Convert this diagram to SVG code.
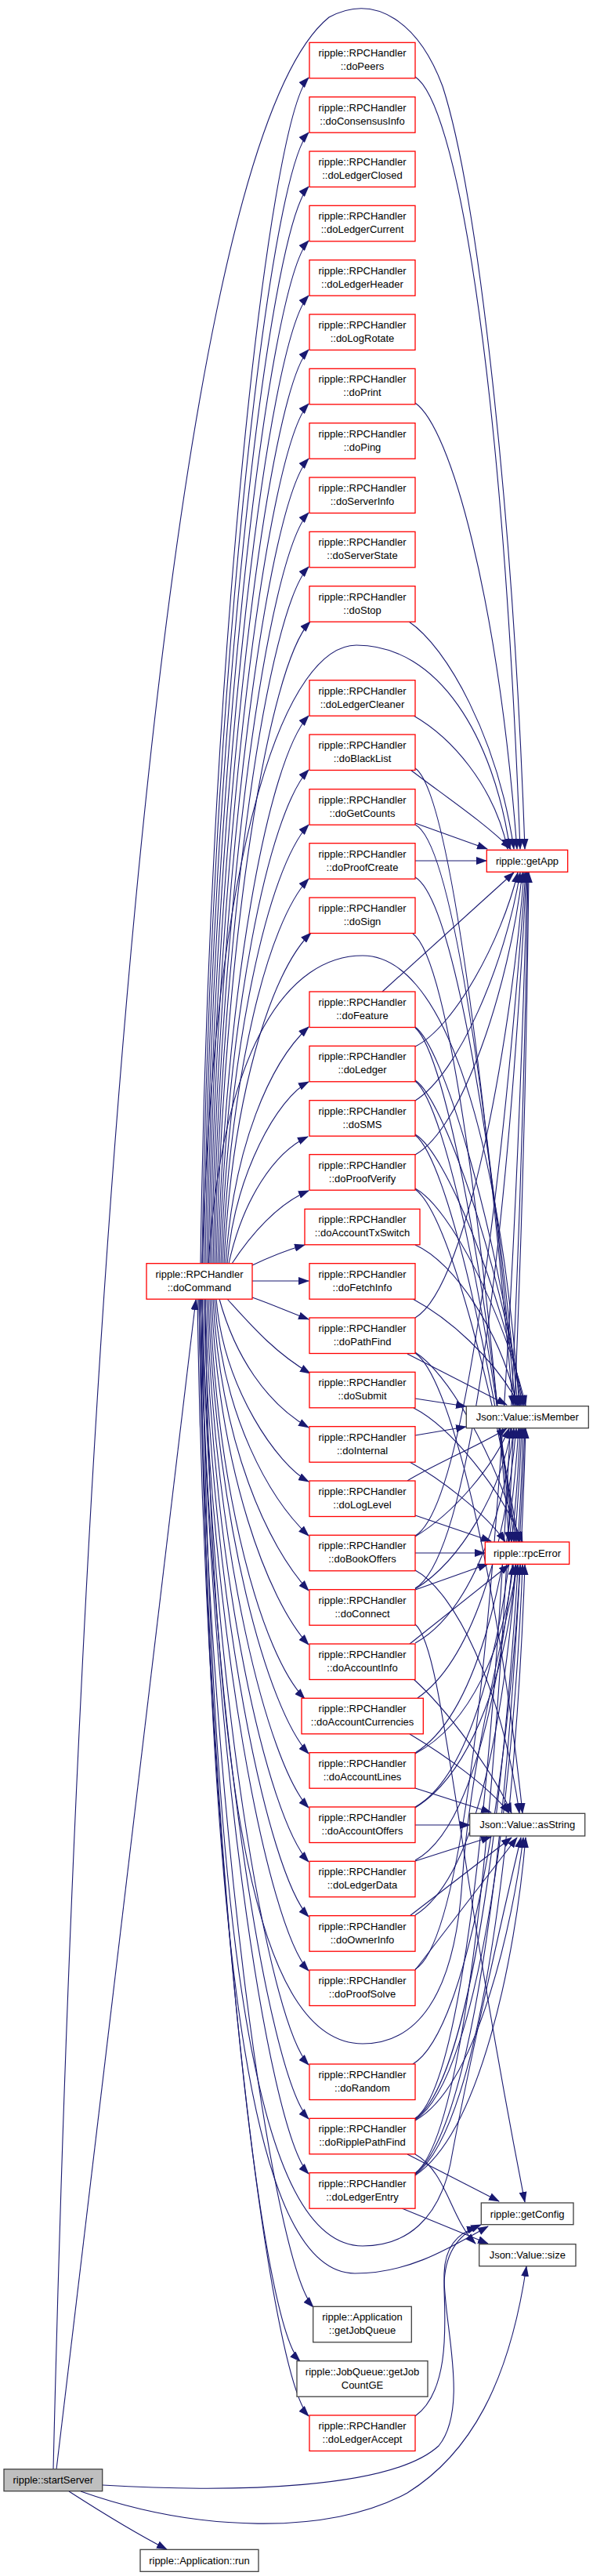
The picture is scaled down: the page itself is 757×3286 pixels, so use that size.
<svg xmlns="http://www.w3.org/2000/svg" width="757" height="3286" viewBox="0 0 757 3286">
<defs>
<style>
.e{fill:none;stroke:#191970;stroke-width:1.1;marker-end:url(#ah)}
.r{fill:#fff;stroke:#ff0000;stroke-width:1.3}
.k{fill:#fff;stroke:#404040;stroke-width:1.3}
.g{fill:#bfbfbf;stroke:#404040;stroke-width:1.3}
text{font-family:"Liberation Sans",Arial,sans-serif;font-size:13px;text-anchor:middle;fill:#000}
</style>
<marker id="ah" markerUnits="userSpaceOnUse" markerWidth="14" markerHeight="10" refX="13" refY="5" orient="auto"><path d="M0,0 L14,5 L0,10 z" fill="#191970"/></marker>
</defs>
<rect width="757" height="3286" fill="#fff"/>
<g id="edges">
<!-- startServer -->
<path class="e" d="M72,3150 L250,1658"/>
<path class="e" d="M68,3150 C100,1800 200,200 420,22 C480,-10 535,30 565,110 C610,250 655,650 670,1083"/>
<path class="e" d="M131,3170 C300,3180 500,3175 560,3120 C600,3070 565,2960 567,2900 C568,2865 585,2848 609,2841"/>
<path class="e" d="M103,3178 C250,3230 420,3235 520,3180 C600,3130 650,3040 672,2891"/>
<path class="e" d="M88,3178 C130,3205 180,3235 213,3252"/>
<!-- doCommand upward -->
<path class="e" d="M256,1612 C266,856 342,155 394,99"/>
<path class="e" d="M258,1612 C268,891 342,225 394,169"/>
<path class="e" d="M260,1612 C270,926 342,294 394,238"/>
<path class="e" d="M262,1612 C272,960 342,363 394,307"/>
<path class="e" d="M264,1612 C274,995 342,433 394,377"/>
<path class="e" d="M266,1612 C276,1030 342,502 394,446"/>
<path class="e" d="M268,1612 C278,1064 342,571 394,515"/>
<path class="e" d="M270,1612 C280,1099 342,641 394,585"/>
<path class="e" d="M272,1612 C282,1134 342,710 394,654"/>
<path class="e" d="M274,1612 C284,1168 342,779 394,723"/>
<path class="e" d="M276,1612 C286,1203 342,849 396,793"/>
<path class="e" d="M258,1612 C275,1050 370,823 455,823 C560,823 630,940 651,1083"/>
<path class="e" d="M278,1612 C288,1263 342,969 394,913"/>
<path class="e" d="M280,1612 C290,1298 342,1038 394,982"/>
<path class="e" d="M282,1612 C292,1333 342,1108 394,1052"/>
<path class="e" d="M284,1612 C294,1367 342,1177 394,1121"/>
<path class="e" d="M286,1612 C296,1402 345,1240 397,1190"/>
<path class="e" d="M266,1612 C285,1330 370,1219 463,1219 C560,1219 635,1420 663,1793"/>
<path class="e" d="M288,1612 C298,1462 345,1355 394,1310"/>
<path class="e" d="M290,1612 C300,1496 355,1400 394,1380"/>
<path class="e" d="M292,1612 C310,1530 350,1470 393,1450"/>
<path class="e" d="M296,1612 C320,1575 355,1535 394,1519"/>
<path class="e" d="M322,1614 C345,1603 365,1595 389,1588"/>
<path class="e" d="M322,1634 L394,1634"/>
<!-- doCommand downward -->
<path class="e" d="M322,1655 C345,1663 365,1672 394,1683"/>
<path class="e" d="M290,1657 C320,1690 350,1725 396,1752"/>
<path class="e" d="M280,1657 C300,1730 340,1790 394,1821"/>
<path class="e" d="M276,1657 C286,1773 355,1869 394,1890"/>
<path class="e" d="M274,1657 C284,1808 345,1913 394,1959"/>
<path class="e" d="M272,1657 C282,1843 342,1973 394,2029"/>
<path class="e" d="M270,1657 C280,1877 342,2042 394,2098"/>
<path class="e" d="M268,1657 C278,1912 335,2111 389,2167"/>
<path class="e" d="M266,1657 C276,1946 342,2181 394,2237"/>
<path class="e" d="M264,1657 C274,1981 342,2250 394,2306"/>
<path class="e" d="M262,1657 C272,2016 342,2319 394,2375"/>
<path class="e" d="M260,1657 C270,2050 342,2389 394,2445"/>
<path class="e" d="M258,1657 C268,2085 342,2458 394,2514"/>
<path class="e" d="M262,1657 C270,2300 330,2607 463,2607 C530,2607 580,2550 590,2400 C600,2250 640,2100 661,1996"/>
<path class="e" d="M258,1657 C268,2145 342,2578 394,2634"/>
<path class="e" d="M256,1657 C266,2180 342,2647 394,2703"/>
<path class="e" d="M256,1657 C266,2214 342,2717 394,2773"/>
<path class="e" d="M258,1657 C268,2500 330,2865 463,2865 C520,2865 560,2830 575,2760 C595,2650 640,2450 665,2344"/>
<path class="e" d="M256,1657 C266,2550 330,2900 453,2900 C520,2900 570,2870 623,2840"/>
<path class="e" d="M254,1657 C264,2300 348,2887 400,2943"/>
<path class="e" d="M254,1657 C264,2334 330,2960 383,3012"/>
<path class="e" d="M252,1657 C262,2369 342,3026 394,3082"/>
<!-- handlers to targets -->
<path class="e" d="M530,98 C580,130 640,450 664,1083"/>
<path class="e" d="M530,514 C575,545 635,760 660,1083"/>
<path class="e" d="M522,793 C570,825 635,940 656,1083"/>
<path class="e" d="M528,913 C575,940 630,1000 648,1083"/>
<path class="e" d="M524,982 C560,1010 620,1050 652,1083"/>
<path class="e" d="M530,980 C575,1010 620,1400 655,1793"/>
<path class="e" d="M530,1050 L622,1083"/>
<path class="e" d="M530,1052 C578,1075 622,1410 658,1793"/>
<path class="e" d="M530,1098 L621,1098"/>
<path class="e" d="M530,1119 C575,1145 625,1420 661,1793"/>
<path class="e" d="M527,1191 C575,1225 620,1600 650,1967"/>
<path class="e" d="M488,1265 L656,1113"/>
<path class="e" d="M530,1310 C565,1335 630,1550 665,1793"/>
<path class="e" d="M530,1311 C570,1345 625,1650 653,1967"/>
<path class="e" d="M530,1335 C580,1310 640,1200 661,1113"/>
<path class="e" d="M530,1378 C565,1400 635,1600 667,1793"/>
<path class="e" d="M530,1379 C570,1410 628,1700 656,1967"/>
<path class="e" d="M530,1404 C585,1370 645,1230 664,1113"/>
<path class="e" d="M530,1447 C570,1470 640,1650 669,1793"/>
<path class="e" d="M530,1448 C572,1480 630,1750 659,1967"/>
<path class="e" d="M530,1473 C590,1440 650,1260 667,1113"/>
<path class="e" d="M530,1516 C575,1540 645,1680 671,1793"/>
<path class="e" d="M530,1517 C575,1550 635,1800 662,1967"/>
<path class="e" d="M530,1588 C580,1610 640,1700 660,1793"/>
<path class="e" d="M527,1657 C570,1680 630,1730 663,1793"/>
<path class="e" d="M530,1681 C600,1640 655,1300 669,1113"/>
<path class="e" d="M520,1727 L647,1792"/>
<path class="e" d="M530,1725 C570,1750 630,1850 664,1967"/>
<path class="e" d="M530,1726 C580,1760 640,2050 667,2313"/>
<path class="e" d="M530,1784 L595,1794"/>
<path class="e" d="M528,1796 C575,1820 640,1900 667,1967"/>
<path class="e" d="M530,1831 L595,1820"/>
<path class="e" d="M523,1865 C560,1885 620,1930 645,1967"/>
<path class="e" d="M520,1889 C550,1870 620,1840 647,1822"/>
<path class="e" d="M530,1933 L627,1966"/>
<path class="e" d="M530,1960 C580,1930 630,1870 650,1822"/>
<path class="e" d="M530,1959 C600,1920 650,1400 671,1113"/>
<path class="e" d="M530,1981 L619,1981"/>
<path class="e" d="M530,2003 C580,2030 640,2150 663,2313"/>
<path class="e" d="M530,2028 L623,1995"/>
<path class="e" d="M530,2027 C590,1990 640,1900 653,1822"/>
<path class="e" d="M530,2026 C610,1980 655,1450 672,1113"/>
<path class="e" d="M530,2072 C565,2100 580,2350 670,2809"/>
<path class="e" d="M523,2097 L650,1996"/>
<path class="e" d="M530,2096 C595,2060 640,1950 656,1822"/>
<path class="e" d="M528,2142 C570,2180 630,2260 653,2313"/>
<path class="e" d="M533,2166 C600,2120 645,1980 659,1822"/>
<path class="e" d="M523,2212 C570,2240 625,2280 650,2313"/>
<path class="e" d="M530,2236 C605,2190 650,2020 662,1822"/>
<path class="e" d="M530,2237 C600,2200 645,2100 655,1996"/>
<path class="e" d="M530,2281 L627,2312"/>
<path class="e" d="M530,2305 C610,2260 655,2050 664,1822"/>
<path class="e" d="M530,2306 C605,2260 650,2120 658,1996"/>
<path class="e" d="M530,2328 L600,2328"/>
<path class="e" d="M530,2374 L627,2343"/>
<path class="e" d="M530,2373 C610,2330 655,2100 666,1822"/>
<path class="e" d="M523,2444 L653,2344"/>
<path class="e" d="M530,2443 C615,2390 658,2150 668,1822"/>
<path class="e" d="M530,2513 L660,2344"/>
<path class="e" d="M530,2512 C620,2460 660,1600 673,1113"/>
<path class="e" d="M527,2633 C600,2590 650,2250 664,1996"/>
<path class="e" d="M530,2702 C625,2640 665,1700 674,1113"/>
<path class="e" d="M530,2703 C620,2640 660,2100 670,1822"/>
<path class="e" d="M530,2704 C615,2650 658,2250 667,1996"/>
<path class="e" d="M530,2705 C610,2660 655,2450 668,2344"/>
<path class="e" d="M520,2748 L637,2808"/>
<path class="e" d="M530,2748 C570,2770 575,2830 607,2862"/>
<path class="e" d="M530,2772 C628,2700 668,1750 675,1113"/>
<path class="e" d="M530,2773 C622,2700 662,2150 671,1822"/>
<path class="e" d="M530,2774 C618,2710 660,2300 670,1996"/>
<path class="e" d="M530,2775 C612,2720 658,2500 671,2344"/>
<path class="e" d="M513,2817 L623,2862"/>
<path class="e" d="M530,3082 C575,3050 568,2960 567,2920 C566,2870 590,2848 614,2838"/>
</g>
<g id="n_doPeers"><rect class="r" x="395" y="54.3" width="135" height="45.5"/><text x="462.5" y="72.3">ripple::RPCHandler</text><text x="462.5" y="89.3">::doPeers</text></g>
<g id="n_doConsensusInfo"><rect class="r" x="395" y="123.7" width="135" height="45.5"/><text x="462.5" y="141.7">ripple::RPCHandler</text><text x="462.5" y="158.7">::doConsensusInfo</text></g>
<g id="n_doLedgerClosed"><rect class="r" x="395" y="193" width="135" height="45.5"/><text x="462.5" y="211">ripple::RPCHandler</text><text x="462.5" y="228">::doLedgerClosed</text></g>
<g id="n_doLedgerCurrent"><rect class="r" x="395" y="262.3" width="135" height="45.5"/><text x="462.5" y="280.3">ripple::RPCHandler</text><text x="462.5" y="297.3">::doLedgerCurrent</text></g>
<g id="n_doLedgerHeader"><rect class="r" x="395" y="331.7" width="135" height="45.5"/><text x="462.5" y="349.7">ripple::RPCHandler</text><text x="462.5" y="366.7">::doLedgerHeader</text></g>
<g id="n_doLogRotate"><rect class="r" x="395" y="401" width="135" height="45.5"/><text x="462.5" y="419">ripple::RPCHandler</text><text x="462.5" y="436">::doLogRotate</text></g>
<g id="n_doPrint"><rect class="r" x="395" y="470.3" width="135" height="45.5"/><text x="462.5" y="488.3">ripple::RPCHandler</text><text x="462.5" y="505.3">::doPrint</text></g>
<g id="n_doPing"><rect class="r" x="395" y="539.7" width="135" height="45.5"/><text x="462.5" y="557.7">ripple::RPCHandler</text><text x="462.5" y="574.7">::doPing</text></g>
<g id="n_doServerInfo"><rect class="r" x="395" y="609" width="135" height="45.5"/><text x="462.5" y="627">ripple::RPCHandler</text><text x="462.5" y="644">::doServerInfo</text></g>
<g id="n_doServerState"><rect class="r" x="395" y="678.3" width="135" height="45.5"/><text x="462.5" y="696.3">ripple::RPCHandler</text><text x="462.5" y="713.3">::doServerState</text></g>
<g id="n_doStop"><rect class="r" x="395" y="747.7" width="135" height="45.5"/><text x="462.5" y="765.7">ripple::RPCHandler</text><text x="462.5" y="782.7">::doStop</text></g>
<g id="n_doLedgerCleaner"><rect class="r" x="395" y="867.7" width="135" height="45.5"/><text x="462.5" y="885.7">ripple::RPCHandler</text><text x="462.5" y="902.7">::doLedgerCleaner</text></g>
<g id="n_doBlackList"><rect class="r" x="395" y="937" width="135" height="45.5"/><text x="462.5" y="955">ripple::RPCHandler</text><text x="462.5" y="972">::doBlackList</text></g>
<g id="n_doGetCounts"><rect class="r" x="395" y="1006.7" width="135" height="45.5"/><text x="462.5" y="1024.7">ripple::RPCHandler</text><text x="462.5" y="1041.7">::doGetCounts</text></g>
<g id="n_doProofCreate"><rect class="r" x="395" y="1075.7" width="135" height="45.5"/><text x="462.5" y="1093.7">ripple::RPCHandler</text><text x="462.5" y="1110.7">::doProofCreate</text></g>
<g id="n_doSign"><rect class="r" x="395" y="1145" width="135" height="45.5"/><text x="462.5" y="1163">ripple::RPCHandler</text><text x="462.5" y="1180">::doSign</text></g>
<g id="n_doFeature"><rect class="r" x="395" y="1265" width="135" height="45.5"/><text x="462.5" y="1283">ripple::RPCHandler</text><text x="462.5" y="1300">::doFeature</text></g>
<g id="n_doLedger"><rect class="r" x="395" y="1334.3" width="135" height="45.5"/><text x="462.5" y="1352.3">ripple::RPCHandler</text><text x="462.5" y="1369.3">::doLedger</text></g>
<g id="n_doSMS"><rect class="r" x="395" y="1403.7" width="135" height="45.5"/><text x="462.5" y="1421.7">ripple::RPCHandler</text><text x="462.5" y="1438.7">::doSMS</text></g>
<g id="n_doProofVerify"><rect class="r" x="395" y="1472.7" width="135" height="45.5"/><text x="462.5" y="1490.7">ripple::RPCHandler</text><text x="462.5" y="1507.7">::doProofVerify</text></g>
<g id="n_doAccountTxSwitch"><rect class="r" x="389" y="1542.3" width="147" height="45.5"/><text x="462.5" y="1560.3">ripple::RPCHandler</text><text x="462.5" y="1577.3">::doAccountTxSwitch</text></g>
<g id="n_doFetchInfo"><rect class="r" x="395" y="1611.7" width="135" height="45.5"/><text x="462.5" y="1629.7">ripple::RPCHandler</text><text x="462.5" y="1646.7">::doFetchInfo</text></g>
<g id="n_doPathFind"><rect class="r" x="395" y="1681" width="135" height="45.5"/><text x="462.5" y="1699">ripple::RPCHandler</text><text x="462.5" y="1716">::doPathFind</text></g>
<g id="n_doSubmit"><rect class="r" x="395" y="1750.3" width="135" height="45.5"/><text x="462.5" y="1768.3">ripple::RPCHandler</text><text x="462.5" y="1785.3">::doSubmit</text></g>
<g id="n_doInternal"><rect class="r" x="395" y="1819.7" width="135" height="45.5"/><text x="462.5" y="1837.7">ripple::RPCHandler</text><text x="462.5" y="1854.7">::doInternal</text></g>
<g id="n_doLogLevel"><rect class="r" x="395" y="1889" width="135" height="45.5"/><text x="462.5" y="1907">ripple::RPCHandler</text><text x="462.5" y="1924">::doLogLevel</text></g>
<g id="n_doBookOffers"><rect class="r" x="395" y="1958.3" width="135" height="45.5"/><text x="462.5" y="1976.3">ripple::RPCHandler</text><text x="462.5" y="1993.3">::doBookOffers</text></g>
<g id="n_doConnect"><rect class="r" x="395" y="2027.7" width="135" height="45.5"/><text x="462.5" y="2045.7">ripple::RPCHandler</text><text x="462.5" y="2062.7">::doConnect</text></g>
<g id="n_doAccountInfo"><rect class="r" x="395" y="2097" width="135" height="45.5"/><text x="462.5" y="2115">ripple::RPCHandler</text><text x="462.5" y="2132">::doAccountInfo</text></g>
<g id="n_doAccountCurrencies"><rect class="r" x="385" y="2166.3" width="155.3" height="45.5"/><text x="462.6" y="2184.3">ripple::RPCHandler</text><text x="462.6" y="2201.3">::doAccountCurrencies</text></g>
<g id="n_doAccountLines"><rect class="r" x="395" y="2235.7" width="135" height="45.5"/><text x="462.5" y="2253.7">ripple::RPCHandler</text><text x="462.5" y="2270.7">::doAccountLines</text></g>
<g id="n_doAccountOffers"><rect class="r" x="395" y="2305" width="135" height="45.5"/><text x="462.5" y="2323">ripple::RPCHandler</text><text x="462.5" y="2340">::doAccountOffers</text></g>
<g id="n_doLedgerData"><rect class="r" x="395" y="2374.3" width="135" height="45.5"/><text x="462.5" y="2392.3">ripple::RPCHandler</text><text x="462.5" y="2409.3">::doLedgerData</text></g>
<g id="n_doOwnerInfo"><rect class="r" x="395" y="2443.7" width="135" height="45.5"/><text x="462.5" y="2461.7">ripple::RPCHandler</text><text x="462.5" y="2478.7">::doOwnerInfo</text></g>
<g id="n_doProofSolve"><rect class="r" x="395" y="2513" width="135" height="45.5"/><text x="462.5" y="2531">ripple::RPCHandler</text><text x="462.5" y="2548">::doProofSolve</text></g>
<g id="n_doRandom"><rect class="r" x="395" y="2633" width="135" height="45.5"/><text x="462.5" y="2651">ripple::RPCHandler</text><text x="462.5" y="2668">::doRandom</text></g>
<g id="n_doRipplePathFind"><rect class="r" x="395" y="2702.3" width="135" height="45.5"/><text x="462.5" y="2720.3">ripple::RPCHandler</text><text x="462.5" y="2737.3">::doRipplePathFind</text></g>
<g id="n_doLedgerEntry"><rect class="r" x="395" y="2771.7" width="135" height="45.5"/><text x="462.5" y="2789.7">ripple::RPCHandler</text><text x="462.5" y="2806.7">::doLedgerEntry</text></g>
<g id="n_getJobQueue"><rect class="k" x="399.7" y="2942.3" width="125.6" height="45.5"/><text x="462.5" y="2960.3">ripple::Application</text><text x="462.5" y="2977.3">::getJobQueue</text></g>
<g id="n_getJobCountGE"><rect class="k" x="379" y="3011.7" width="167" height="45.5"/><text x="462.5" y="3029.7">ripple::JobQueue::getJob</text><text x="462.5" y="3046.7">CountGE</text></g>
<g id="n_doLedgerAccept"><rect class="r" x="395" y="3081" width="135" height="45.5"/><text x="462.5" y="3099">ripple::RPCHandler</text><text x="462.5" y="3116">::doLedgerAccept</text></g>
<g id="n_getApp"><rect class="r" x="621.3" y="1084.3" width="103.4" height="28"/><text x="673" y="1102.8">ripple::getApp</text></g>
<g id="n_isMember"><rect class="k" x="595.3" y="1793.7" width="156" height="28"/><text x="673.3" y="1812.2">Json::Value::isMember</text></g>
<g id="n_rpcError"><rect class="r" x="619.3" y="1967" width="107.4" height="28.3"/><text x="673" y="1985.6">ripple::rpcError</text></g>
<g id="n_asString"><rect class="k" x="599.7" y="2313.3" width="147" height="28.7"/><text x="673.2" y="2332">Json::Value::asString</text></g>
<g id="n_getConfig"><rect class="k" x="614.3" y="2810" width="117.7" height="27.7"/><text x="673.2" y="2828.5">ripple::getConfig</text></g>
<g id="n_size"><rect class="k" x="611.7" y="2862.7" width="123.3" height="28"/><text x="673.3" y="2881.2">Json::Value::size</text></g>
<g id="n_doCommand"><rect class="r" x="187" y="1611.7" width="135" height="45.5"/><text x="254.5" y="1629.7">ripple::RPCHandler</text><text x="254.5" y="1646.7">::doCommand</text></g>
<g id="n_startServer"><rect class="g" x="5" y="3149.7" width="125.7" height="28"/><text x="67.8" y="3168.2">ripple::startServer</text></g>
<g id="n_run"><rect class="k" x="179" y="3252.3" width="151" height="28"/><text x="254.5" y="3270.8">ripple::Application::run</text></g>
</svg>
